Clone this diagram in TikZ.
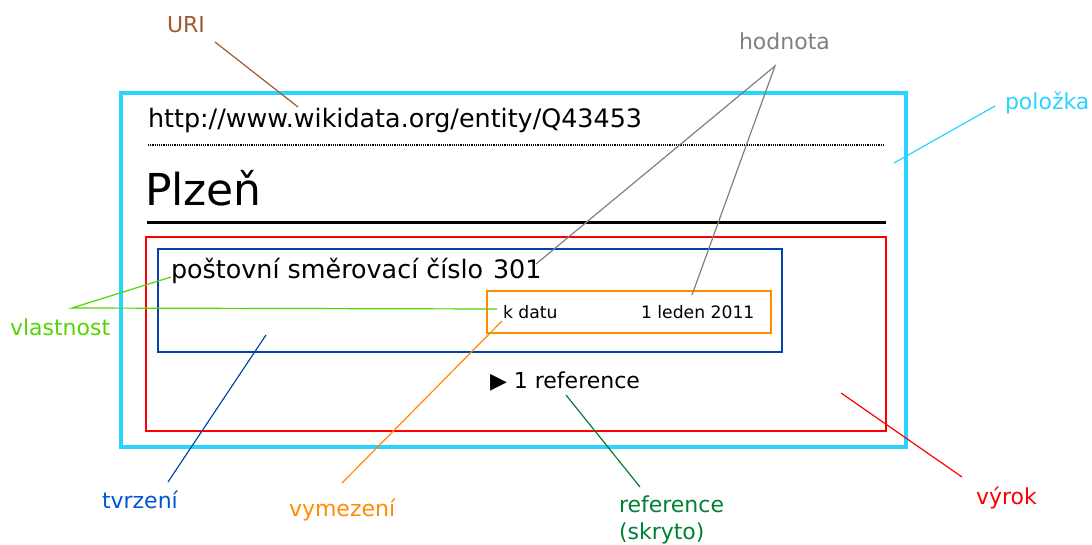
\documentclass[tikz,border=0pt]{standalone}
\usepackage{fontspec}
\setmainfont{DejaVu Sans}
\definecolor{itemcyan}{RGB}{42,212,255}
\definecolor{stmtred}{RGB}{255,0,0}
\definecolor{claimblue}{RGB}{0,68,170}
\definecolor{claimtext}{RGB}{0,85,212}
\definecolor{qualorange}{RGB}{255,140,0}
\definecolor{propgreen}{RGB}{85,212,0}
\definecolor{refgreen}{RGB}{0,128,51}
\definecolor{uribrown}{RGB}{160,90,44}
\definecolor{valgray}{RGB}{128,128,128}
\tikzset{
  txt/.style={anchor=base west, inner sep=0pt, outer sep=0pt},
  lbl/.style={txt, font=\fontsize{22}{27}\selectfont},
  leader/.style={line width=1.2pt},
  frame/.style={line width=2.8pt},
}
\begin{document}
\begin{tikzpicture}[x=1pt,y=-1pt]
\useasboundingbox (0,0) rectangle (1092,545);

% item card
\draw[itemcyan, line width=4pt] (121,93) rectangle (906,447);
\node[txt, font=\fontsize{25.4}{30}\selectfont] (uri) at (148,128) {http://www.wikidata.org/entity/Q43453};
\draw[densely dotted, line width=1.2pt] (148,145) -- (883,145);
\node[txt, font=\fontsize{44}{50}\selectfont] (label) at (145,206) {Plzeň};
\draw[line width=3pt] (147,223) -- (886,223);

% statement group, claim, qualifier
\draw[frame, stmtred] (146,237) rectangle (886,431);
\draw[frame, claimblue] (158,249) rectangle (782,352);
\node[txt, font=\fontsize{25.4}{30}\selectfont] (prop) at (171,279) {poštovní směrovací číslo};
\node[txt, font=\fontsize{25.4}{30}\selectfont] (val) at (493,279) {301};
\draw[frame, qualorange] (487,291) rectangle (771,333);
\node[txt, font=\fontsize{17.2}{20}\selectfont] (qprop) at (503,318) {k datu};
\node[txt, font=\fontsize{17.2}{20}\selectfont] (qval) at (641,318) {1 leden 2011};
\node[txt, font=\fontsize{22}{27}\selectfont] (refs) at (490,388) {▶ 1 reference};

% labels
\node[lbl, text=uribrown] (lURI) at (167,33) {URI};
\node[lbl, text=valgray] (lval) at (739,50) {hodnota};
\node[lbl, text=itemcyan] (litem) at (1005,110) {položka};
\node[lbl, text=propgreen] (lprop) at (10,335) {vlastnost};
\node[lbl, text=claimtext] (lclaim) at (102,508) {tvrzení};
\node[lbl, text=qualorange] (lqual) at (289,516) {vymezení};
\node[lbl, text=refgreen] (lref) at (619,512) {reference};
\node[lbl, text=refgreen] (lref2) at (619,539) {(skryto)};
\node[lbl, text=stmtred] (lstmt) at (976,504) {výrok};

% leader line end points
\coordinate (uriA) at (215,42);   \coordinate (uriB) at (298,107);
\coordinate (valA) at (775,66);   \coordinate (valB) at (536,264);  \coordinate (valC) at (692,295);
\coordinate (itemA) at (995,106); \coordinate (itemB) at (894,163);
\coordinate (propA) at (72,308);  \coordinate (propB) at (171,277); \coordinate (propC) at (497,309);
\coordinate (claimA) at (168,482); \coordinate (claimB) at (266,335);
\coordinate (qualA) at (342,483);  \coordinate (qualB) at (502,321);
\coordinate (refA) at (640,487);   \coordinate (refB) at (566,395);
\coordinate (stmtA) at (962,477);  \coordinate (stmtB) at (841,393);

% leader lines
\draw[leader, uribrown] (uriA) -- (uriB);
\draw[leader, valgray] (valB) -- (valA) -- (valC);
\draw[leader, itemcyan] (itemA) -- (itemB);
\draw[leader, propgreen] (propB) -- (propA) -- (propC);
\draw[leader, claimblue] (claimA) -- (claimB);
\draw[leader, qualorange] (qualA) -- (qualB);
\draw[leader, refgreen] (refA) -- (refB);
\draw[leader, stmtred] (stmtA) -- (stmtB);
\end{tikzpicture}
\end{document}
